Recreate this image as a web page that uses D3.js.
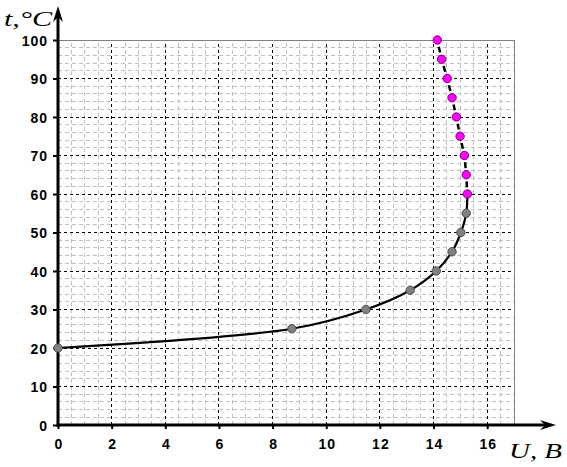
<!DOCTYPE html>
<html><head><meta charset="utf-8">
<script src="https://cdn.jsdelivr.net/npm/d3@7"></script>
<style>body{margin:0;background:#fff}svg{display:block}</style>
</head><body>
<script>
// Data
const solidU = [0, 8.72, 11.48, 13.13, 14.1, 14.69, 15.02, 15.22, 15.26];
const solidT = [20, 25, 30, 35, 40, 45, 50, 55, 60];
const grayU = [0, 8.72, 11.48, 13.13, 14.1, 14.69, 15.02, 15.22];
const grayT = [20, 25, 30, 35, 40, 45, 50, 55];
const magU = [15.26, 15.22, 15.15, 14.99, 14.85, 14.69, 14.51, 14.3, 14.14];
const magT = [60, 65, 70, 75, 80, 85, 90, 95, 100];
const xTicks = [0, 2, 4, 6, 8, 10, 12, 14, 16];
const yTicks = [0, 10, 20, 30, 40, 50, 60, 70, 80, 90, 100];

const W = 567, H = 467;
const svg = d3.select("body").append("svg").attr("width", W).attr("height", H);
const x = d3.scaleLinear().domain([0, 17]).range([58, 514]);
const y = d3.scaleLinear().domain([0, 100]).range([425, 40]);

// minor grid
const g = svg.append("g");
g.selectAll(".mx").data(d3.range(0.5, 17, 0.5).filter(v => v % 2 !== 0))
  .join("line").attr("x1", d => x(d)).attr("x2", d => x(d)).attr("y1", y(0)).attr("y2", y(100))
  .attr("stroke", "#c0c0c0").attr("stroke-dasharray", "4,3").attr("shape-rendering", "crispEdges");
g.selectAll(".my").data(d3.range(2, 100, 2).filter(v => v % 10 !== 0))
  .join("line").attr("x1", x(0)).attr("x2", x(17)).attr("y1", d => y(d)).attr("y2", d => y(d))
  .attr("stroke", "#c0c0c0").attr("stroke-dasharray", "4,3").attr("shape-rendering", "crispEdges");
// major grid
g.selectAll(".Mx").data(xTicks.filter(v => v > 0))
  .join("line").attr("x1", d => x(d)).attr("x2", d => x(d)).attr("y1", y(0)).attr("y2", y(100))
  .attr("stroke", "#000").attr("stroke-dasharray", "3,3").attr("shape-rendering", "crispEdges");
g.selectAll(".My").data(yTicks.filter(v => v > 0 && v < 100))
  .join("line").attr("x1", x(0)).attr("x2", x(17)).attr("y1", d => y(d)).attr("y2", d => y(d))
  .attr("stroke", "#000").attr("stroke-dasharray", "3,3").attr("shape-rendering", "crispEdges");
// plot border (top/right)
svg.append("path").attr("d", `M${x(0)},${y(100)}H${x(17)}V${y(0)}`)
  .attr("fill", "none").attr("stroke", "#808080").attr("stroke-width", 1).attr("shape-rendering", "crispEdges");

// axes
const yAxis = d3.axisLeft(y).tickValues(yTicks).tickSize(5).tickPadding(5);
const yg = svg.append("g").attr("transform", `translate(${x(0)},0)`).call(yAxis);
const xAxis = d3.axisBottom(x).tickValues(xTicks).tickSize(4).tickPadding(10);
const xg = svg.append("g").attr("transform", `translate(0,${y(0)})`).call(xAxis);
[yg, xg].forEach(a => {
  a.select(".domain").remove();
  a.selectAll(".tick line").attr("stroke", "#000").attr("stroke-width", 2);
  a.selectAll("text").attr("font-family", "Liberation Sans, Arial, sans-serif")
    .attr("font-weight", "bold").attr("font-size", 14).attr("fill", "#000");
});
yg.selectAll("text").attr("dy", "0.36em").attr("letter-spacing", 1);
xg.selectAll("text").attr("letter-spacing", 1).attr("dx", "0.5");

// axis lines with arrows
svg.append("line").attr("x1", x(0)).attr("x2", x(0)).attr("y1", y(0) + 1.5).attr("y2", 14)
  .attr("stroke", "#000").attr("stroke-width", 3);
svg.append("path").attr("d", `M${x(0)},6 L${x(0) - 5},22 L${x(0)},17 L${x(0) + 5},22 Z`).attr("fill", "#000");
svg.append("line").attr("x1", x(0) - 1.5).attr("x2", 548).attr("y1", y(0)).attr("y2", y(0))
  .attr("stroke", "#000").attr("stroke-width", 3);
svg.append("path").attr("d", `M556,${y(0)} L540,${y(0) - 5} L545,${y(0)} L540,${y(0) + 5} Z`).attr("fill", "#000");

// axis titles
svg.append("text").attr("x", 4).attr("y", 26).attr("font-family", "Liberation Serif, Times New Roman, serif")
  .attr("font-style", "italic").attr("font-size", 20).attr("fill", "#000")
  .attr("textLength", 48).attr("lengthAdjust", "spacingAndGlyphs").text("t,°C");
svg.append("text").attr("x", 509).attr("y", 458).attr("font-family", "Liberation Serif, Times New Roman, serif")
  .attr("font-style", "italic").attr("font-size", 22).attr("fill", "#000")
  .attr("textLength", 53).attr("lengthAdjust", "spacingAndGlyphs").text("U, B");

// solid curve
const solid = solidU.map((u, i) => [u, solidT[i]]);
const line = d3.line().x(d => x(d[0])).y(d => y(d[1])).curve(d3.curveCatmullRom.alpha(0.5));
svg.append("path").attr("d", line(solid)).attr("fill", "none").attr("stroke", "#000").attr("stroke-width", 2.2);

// dashed segments
const mag = magU.map((u, i) => [u, magT[i]]);
for (let i = 0; i < mag.length - 1; i++) {
  const x1 = x(mag[i][0]), y1 = y(mag[i][1]), x2 = x(mag[i + 1][0]), y2 = y(mag[i + 1][1]);
  const L = Math.hypot(x2 - x1, y2 - y1), dash = 6;
  svg.append("line").attr("x1", x1).attr("y1", y1).attr("x2", x2).attr("y2", y2)
    .attr("stroke", "#000").attr("stroke-width", 2.5)
    .attr("stroke-dasharray", `0,${(L - dash) / 2},${dash},${L}`);
}

// markers
const gray = grayU.map((u, i) => [u, grayT[i]]);
svg.selectAll(".gp").data(gray).join("circle").attr("cx", d => x(d[0])).attr("cy", d => y(d[1])).attr("r", 4.2)
  .attr("fill", "#808080").attr("stroke", "#505050").attr("stroke-width", 1);
svg.selectAll(".mp").data(mag).join("circle").attr("cx", d => x(d[0])).attr("cy", d => y(d[1])).attr("r", 4.2)
  .attr("fill", "#ff00ff").attr("stroke", "#800080").attr("stroke-width", 1);
</script>
</body></html>
